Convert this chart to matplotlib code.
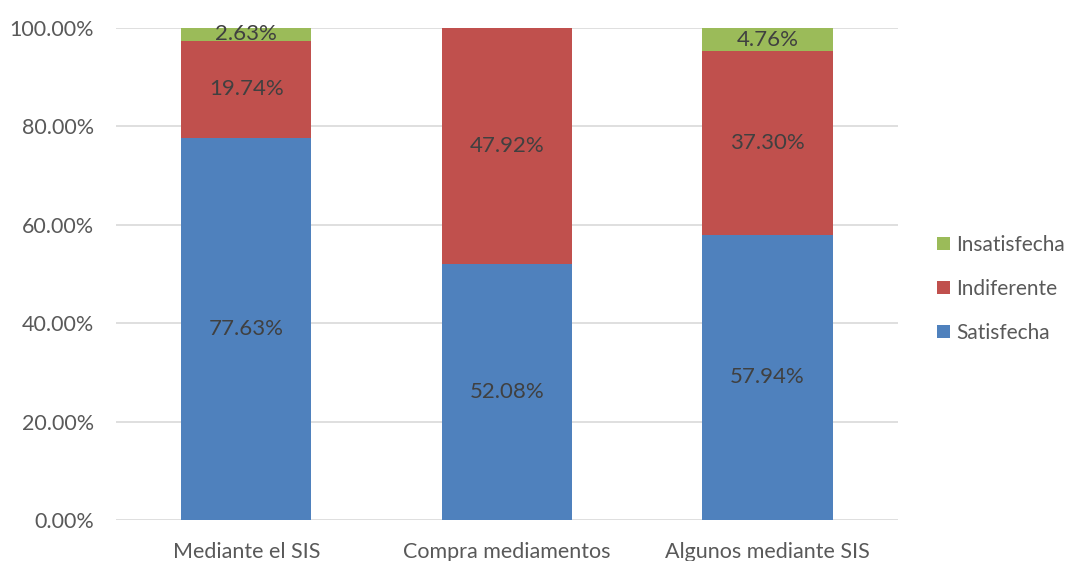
import matplotlib.pyplot as plt
import numpy as np

categories = ["Mediante el SIS", "Compra mediamentos", "Algunos mediante SIS"]
satisfecha = [77.63, 52.08, 57.94]
indiferente = [19.74, 47.92, 37.30]
insatisfecha = [2.63, 0.0, 4.76]

series = [
    ("Satisfecha", satisfecha, "#4F81BD"),
    ("Indiferente", indiferente, "#C0504D"),
    ("Insatisfecha", insatisfecha, "#9BBB59"),
]

plt.rcParams['font.family'] = ['Lato', 'DejaVu Sans']

fig = plt.figure(figsize=(10.78, 5.61), dpi=100)
ax = fig.add_axes([0.1076, 0.0731, 0.7254, 0.877])

x = np.arange(len(categories))
bottom = np.zeros(len(categories))
handles = []
for name, vals, color in series:
    vals = np.array(vals)
    b = ax.bar(x, vals, 0.5, bottom=bottom, color=color, label=name, zorder=3)
    handles.append(b)
    for xi, v, bt in zip(x, vals, bottom):
        if v > 0:
            ax.text(xi, bt + v / 2, f"{v:.2f}%", ha='center', va='center',
                    fontsize=16, color='#404040', zorder=4)
    bottom += vals

ax.set_xlim(-0.5, len(categories) - 0.5)
ax.set_ylim(0, 100)
ax.set_yticks(np.arange(0, 101, 20))
ax.set_yticklabels([f"{v:.2f}%" for v in np.arange(0, 101, 20)])
ax.set_xticks(x)
ax.set_xticklabels(categories)
ax.tick_params(axis='both', length=0, labelsize=15.5, labelcolor='#595959')
ax.tick_params(axis='y', pad=16)
ax.tick_params(axis='x', pad=16)
ax.yaxis.grid(True, color='#D9D9D9', linewidth=1.2, zorder=0)
for s in ax.spines.values():
    s.set_visible(False)

leg = fig.legend(handles[::-1], [s[0] for s in series][::-1], loc='center left',
                 bbox_to_anchor=(0.852, 0.485), frameon=False, fontsize=15,
                 handlelength=0.6, handleheight=0.6, handletextpad=0.3,
                 labelspacing=1.15)
for t in leg.get_texts():
    t.set_color('#595959')

fig.savefig("out.png", dpi=100)
